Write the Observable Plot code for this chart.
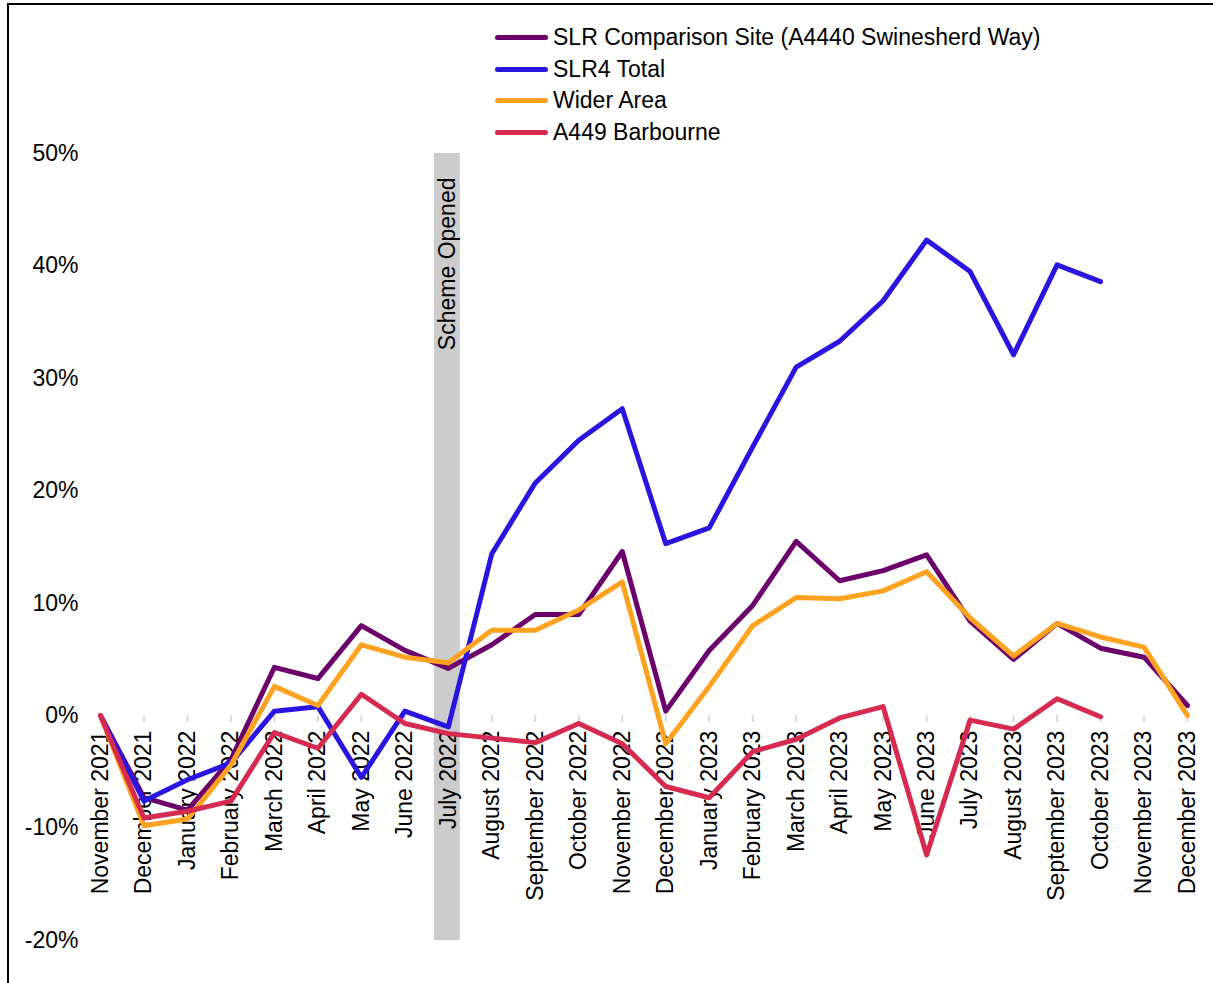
<!DOCTYPE html>
<html>
<head>
<meta charset="utf-8">
<script src="https://cdn.jsdelivr.net/npm/d3@7"></script>
<script src="https://cdn.jsdelivr.net/npm/@observablehq/plot@0.6"></script>
<style>
  html, body { margin: 0; padding: 0; background: #fff; }
  body { font-family: "Liberation Sans", Arial, sans-serif; }
  #wrap { position: relative; width: 1213px; height: 983px; overflow: hidden; }
  #frame { position: absolute; left: 7px; top: 3px; right: -5px; bottom: -5px;
           border-left: 2px solid #000; border-top: 2px solid #000; pointer-events: none; }
  #legend { position: relative; height: 120px; }
  .lg { position: absolute; left: 495px; height: 30px; display: flex; align-items: center; }
  .sw { width: 53px; height: 5px; border-radius: 3px; margin-right: 5px; }
  .lt { font-size: 23px; color: #000; white-space: nowrap; }
  #chart svg { display: block; }
</style>
</head>
<body>
<div id="wrap">
  <div id="frame"></div>
  <div id="legend"></div>
  <div id="chart"></div>
</div>
<script>
// Categories (months)
const months = [
  "November 2021", "December 2021", "January 2022", "February 2022", "March 2022",
  "April 2022", "May 2022", "June 2022", "July 2022", "August 2022",
  "September 2022", "October 2022", "November 2022", "December 2022", "January 2023",
  "February 2023", "March 2023", "April 2023", "May 2023", "June 2023",
  "July 2023", "August 2023", "September 2023", "October 2023", "November 2023",
  "December 2023"
];

// Series values (% change), null = no data
const slrComparison = [0, -7.3, -8.4, -3.9, 4.3, 3.3, 8.0, 5.8, 4.2, 6.3,
  9.0, 9.0, 14.6, 0.4, 5.8, 9.8, 15.5, 12.0, 12.9, 14.3,
  8.4, 5.0, 8.2, 6.0, 5.2, 0.9];
const slr4Total = [0, -7.6, -5.7, -4.2, 0.4, 0.8, -5.5, 0.4, -1.0, 14.4,
  20.7, 24.5, 27.3, 15.3, 16.7, 23.9, 31.0, 33.3, 36.9, 42.3,
  39.5, 32.1, 40.1, 38.6, null, null];
const widerArea = [0, -9.8, -9.2, -4.4, 2.6, 0.9, 6.3, 5.2, 4.7, 7.6,
  7.6, 9.4, 11.9, -2.5, 2.6, 8.0, 10.5, 10.4, 11.1, 12.8,
  8.7, 5.3, 8.2, 7.0, 6.1, 0.0];
const a449Barbourne = [0, -9.1, -8.5, -7.6, -1.5, -2.9, 1.9, -0.7, -1.6, -2.0,
  -2.4, -0.7, -2.5, -6.3, -7.3, -3.2, -2.1, -0.2, 0.8, -12.4,
  -0.4, -1.2, 1.5, -0.1, null, null];

const seriesNames = ["SLR Comparison Site (A4440 Swinesherd Way)", "SLR4 Total", "Wider Area", "A449 Barbourne"];
const seriesValues = [slrComparison, slr4Total, widerArea, a449Barbourne];
const seriesColors = ["#6b006b", "#2a14e0", "#ffa21f", "#d62a50"];

const yTicks = [-20, -10, 0, 10, 20, 30, 40, 50];
const schemeMonth = ["July 2022"];
const schemeLabel = "Scheme Opened";

// Build long-format table
const rows = [];
seriesNames.forEach((name, si) => {
  seriesValues[si].forEach((v, i) => {
    if (v != null) rows.push({series: name, month: months[i], value: v});
  });
});

// Legend (HTML)
const legend = document.getElementById("legend");
const legendTops = [22, 54, 85, 117];
seriesNames.forEach((name, i) => {
  const row = document.createElement("div");
  row.className = "lg";
  row.style.top = legendTops[i] + "px";
  row.innerHTML = `<div class="sw" style="background:${seriesColors[i]}"></div><div class="lt">${name}</div>`;
  legend.appendChild(row);
});

const font = '"Liberation Sans", Arial, sans-serif';

const chart = Plot.plot({
  width: 1213,
  height: 863,
  marginLeft: 100,
  marginRight: 26,
  marginTop: 33,
  marginBottom: 43,
  style: {fontFamily: font, fontSize: "23px", color: "#000", background: "transparent", overflow: "visible"},
  x: {type: "point", domain: months, padding: 0, round: false, axis: null},
  y: {domain: [-20, 50], axis: null},
  color: {domain: seriesNames, range: seriesColors},
  marks: [
    Plot.ruleY(yTicks, {stroke: "#d9d9d9", strokeWidth: 2, x1: months[0], x2: months[months.length - 1], insetLeft: -1, insetRight: -1}),
    Plot.ruleX(schemeMonth, {x: d => d, y1: -20, y2: 50, stroke: "#cccccc", strokeWidth: 26, dx: -1.5}),
    Plot.text([schemeLabel], {x: () => schemeMonth[0], y: () => 50, text: d => d, rotate: -90, textAnchor: "end", lineAnchor: "middle", dy: 24, dx: -1, fontSize: 23, fill: "#000"}),
    Plot.ruleX(months, {x: d => d, y1: 0, y2: -0.6, stroke: "#d9d9d9", strokeWidth: 2}),
    Plot.text(yTicks, {x: () => months[0], y: d => d, text: d => d + "%", textAnchor: "end", dx: -22, fontSize: 23, fill: "#000"}),
    Plot.text(months, {x: d => d, y: () => 0, text: d => d, rotate: -90, textAnchor: "end", lineAnchor: "middle", dy: 15, fontSize: 23, fill: "#000"}),
    Plot.line(rows, {x: "month", y: "value", z: "series", stroke: "series", strokeWidth: 5, strokeLinejoin: "round", strokeLinecap: "round"})
  ]
});
document.getElementById("chart").appendChild(chart);
</script>
</body>
</html>
